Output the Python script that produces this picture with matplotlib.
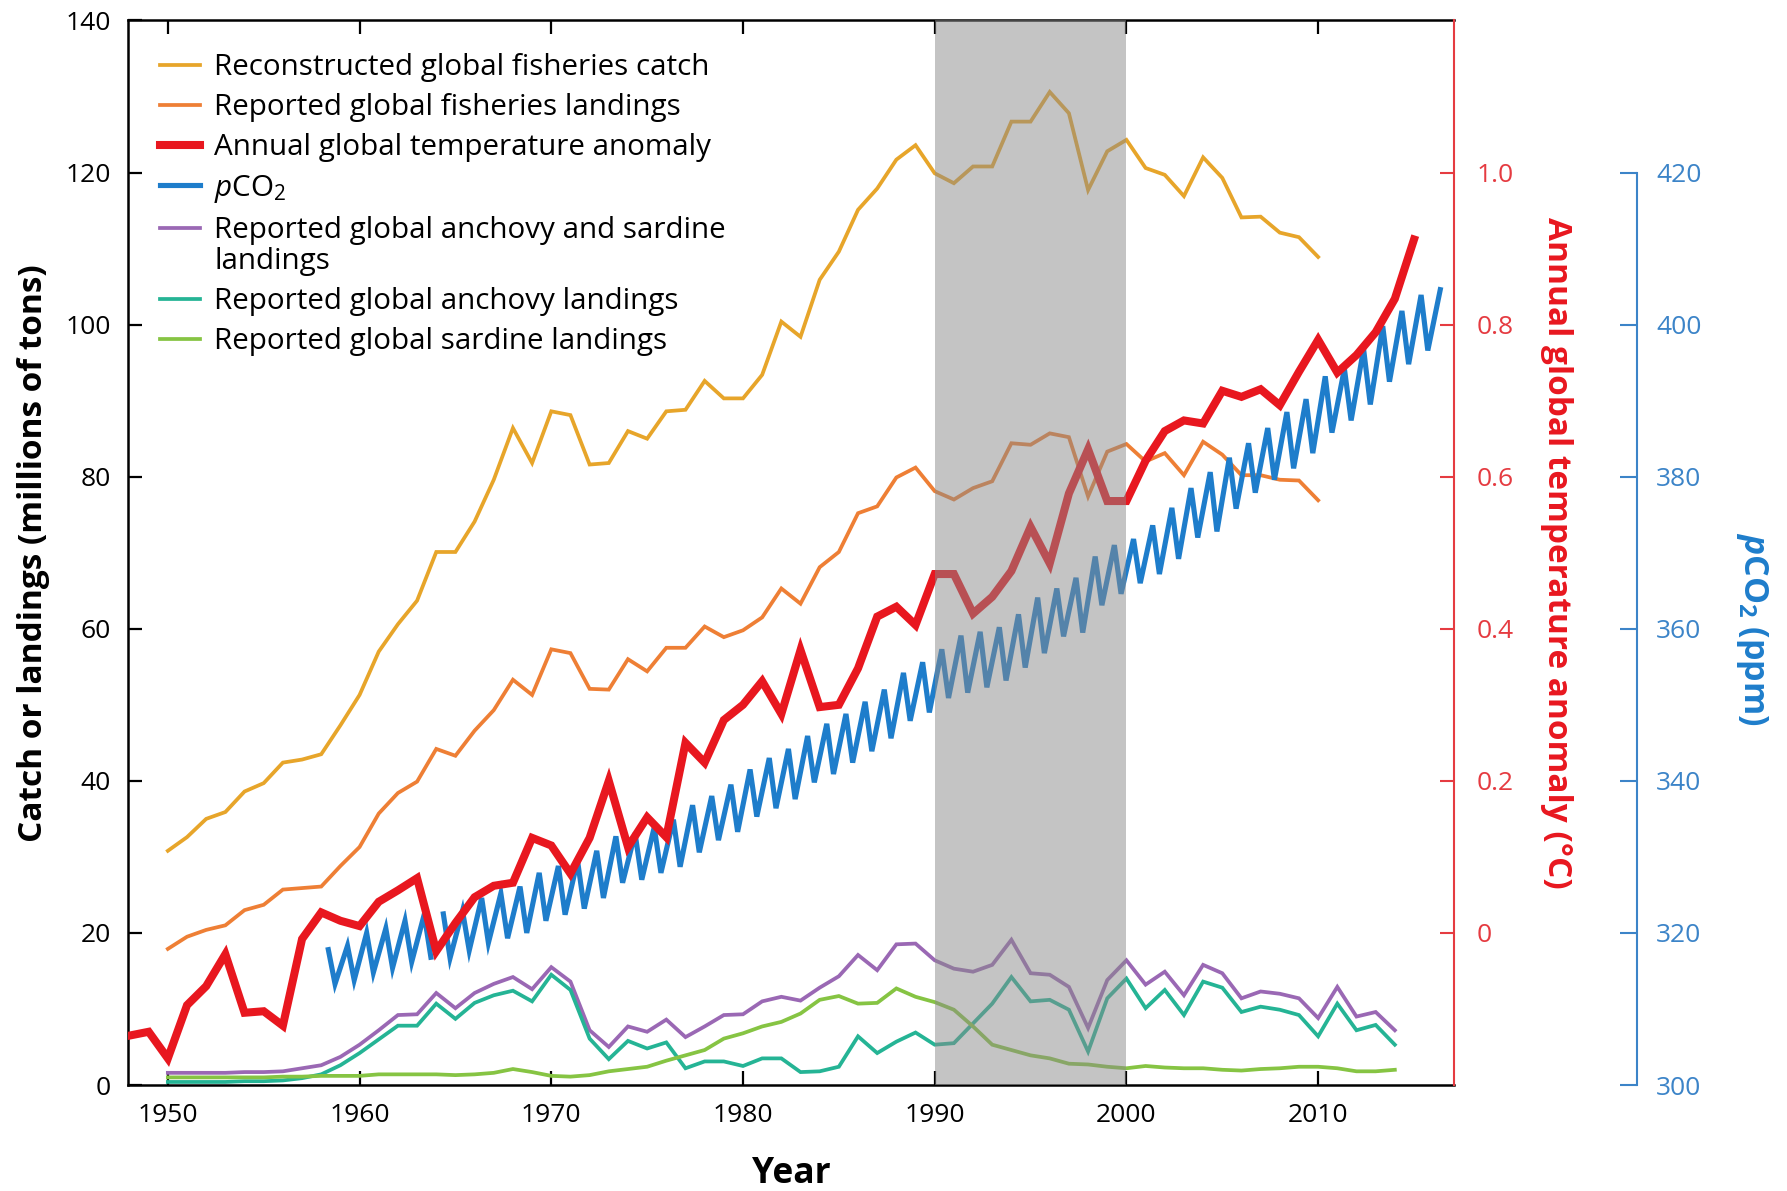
import numpy as np
import matplotlib
matplotlib.use("Agg")
import matplotlib.pyplot as plt
from matplotlib.legend_handler import HandlerLine2D

FONT = "Open Sans"
plt.rcParams["font.family"] = [FONT, "DejaVu Sans"]
plt.rcParams["mathtext.fontset"] = "custom"
plt.rcParams["mathtext.rm"] = FONT
plt.rcParams["mathtext.it"] = FONT + ":italic"
plt.rcParams["mathtext.bf"] = FONT + ":bold"
try:
    plt.rcParams["mathtext.bfit"] = FONT + ":italic:bold"
except KeyError:
    pass

# ---------------- data ----------------
fish_years = list(range(1950, 2011))
reconstructed_catch = [
    30.8, 32.6, 35.0, 35.9, 38.6, 39.7, 42.4, 42.8, 43.5, 47.3,
    51.3, 57.0, 60.6, 63.7, 70.1, 70.1, 74.1, 79.6, 86.4, 81.8,
    88.6, 88.1, 81.6, 81.8, 86.0, 85.0, 88.6, 88.8, 92.6, 90.3,
    90.3, 93.4, 100.4, 98.4, 105.9, 109.6, 115.1, 117.9, 121.7, 123.6,
    119.9, 118.6, 120.8, 120.8, 126.7, 126.7, 130.6, 127.8, 117.7, 122.8,
    124.3, 120.6, 119.7, 116.9, 122.0, 119.3, 114.1, 114.2, 112.1, 111.5,
    108.9]
reported_landings = [
    17.9, 19.5, 20.4, 21.0, 23.0, 23.7, 25.7, 25.9, 26.1, 28.8,
    31.3, 35.7, 38.4, 39.9, 44.2, 43.3, 46.6, 49.3, 53.3, 51.3,
    57.3, 56.8, 52.1, 52.0, 56.0, 54.4, 57.5, 57.5, 60.3, 58.9,
    59.8, 61.5, 65.3, 63.3, 68.1, 70.1, 75.2, 76.1, 79.9, 81.2,
    78.1, 77.0, 78.5, 79.4, 84.4, 84.2, 85.7, 85.2, 77.4, 83.3,
    84.3, 82.0, 83.1, 80.2, 84.6, 82.9, 80.2, 80.2, 79.6, 79.5,
    76.9]

small_years = list(range(1950, 2015))
anchovy_sardine = [
    1.6, 1.6, 1.6, 1.6, 1.7, 1.7, 1.8, 2.2, 2.6, 3.7,
    5.3, 7.2, 9.2, 9.3, 12.1, 10.1, 12.1, 13.3, 14.2, 12.6,
    15.5, 13.6, 7.2, 5.0, 7.7, 7.0, 8.6, 6.3, 7.7, 9.2,
    9.3, 11.0, 11.6, 11.1, 12.8, 14.3, 17.1, 15.1, 18.5, 18.6,
    16.4, 15.3, 14.9, 15.8, 19.1, 14.7, 14.5, 12.9, 7.5, 13.8,
    16.4, 13.2, 14.9, 11.8, 15.8, 14.7, 11.4, 12.3, 12.0, 11.4,
    8.8, 12.9, 9.0, 9.6, 7.2]
anchovy = [
    0.4, 0.4, 0.4, 0.4, 0.5, 0.5, 0.6, 0.9, 1.4, 2.6,
    4.2, 6.0, 7.8, 7.8, 10.7, 8.7, 10.8, 11.8, 12.4, 11.0,
    14.5, 12.5, 6.1, 3.4, 5.8, 4.8, 5.6, 2.2, 3.1, 3.1,
    2.5, 3.5, 3.5, 1.7, 1.8, 2.4, 6.4, 4.2, 5.7, 6.9,
    5.3, 5.5, 8.1, 10.7, 14.2, 11.0, 11.2, 9.9, 4.4, 11.4,
    14.0, 10.1, 12.5, 9.2, 13.6, 12.8, 9.6, 10.3, 9.9, 9.2,
    6.4, 10.7, 7.2, 7.9, 5.3]
sardine = [
    1.0, 1.0, 1.0, 1.0, 1.0, 1.0, 1.1, 1.1, 1.2, 1.2,
    1.2, 1.4, 1.4, 1.4, 1.4, 1.3, 1.4, 1.6, 2.1, 1.7,
    1.2, 1.1, 1.3, 1.8, 2.1, 2.4, 3.2, 3.9, 4.6, 6.1,
    6.8, 7.7, 8.3, 9.4, 11.2, 11.7, 10.7, 10.8, 12.7, 11.6,
    10.9, 9.9, 7.7, 5.3, 4.6, 3.9, 3.5, 2.8, 2.7, 2.4,
    2.2, 2.5, 2.3, 2.2, 2.2, 2.0, 1.9, 2.1, 2.2, 2.4,
    2.4, 2.2, 1.8, 1.8, 2.0]

temp_years = list(range(1948, 2016))
temp_anomaly = [
    -0.135, -0.130, -0.165, -0.095, -0.070, -0.028, -0.105, -0.103, -0.122, -0.008,
    0.027, 0.016, 0.009, 0.041, 0.056, 0.072, -0.024, 0.013, 0.047, 0.062,
    0.066, 0.125, 0.115, 0.078, 0.125, 0.200, 0.113, 0.152, 0.126, 0.250,
    0.224, 0.280, 0.300, 0.331, 0.288, 0.372, 0.297, 0.300, 0.348, 0.416,
    0.429, 0.405, 0.472, 0.472, 0.420, 0.442, 0.476, 0.534, 0.486, 0.578,
    0.636, 0.568, 0.568, 0.621, 0.660, 0.674, 0.670, 0.713, 0.705, 0.715,
    0.694, 0.738, 0.780, 0.737, 0.760, 0.790, 0.834, 0.912]

# pCO2: yearly seasonal maximum (late spring) and minimum (early autumn), ppm
co2_years = list(range(1958, 2017))
co2_max = [
    317.8, 318.3, 320.0, 320.6, 321.6, 322.4, 322.5, 322.9, 324.6, 325.2,
    326.1, 327.9, 328.8, 329.5, 330.8, 332.7, 333.1, 333.9, 334.9, 336.8,
    338.0, 339.5, 341.5, 343.0, 344.2, 345.9, 347.5, 348.8, 350.4, 352.0,
    354.2, 355.6, 357.3, 359.1, 359.6, 360.2, 361.9, 364.1, 365.3, 366.7,
    369.5, 371.0, 371.8, 373.6, 375.9, 378.5, 380.6, 382.5, 384.4, 386.4,
    388.5, 390.2, 393.2, 394.2, 396.8, 399.8, 401.8, 403.9, 404.6]
co2_min = [
    313.3, 313.8, 314.8, 315.4, 316.2, 316.8, 316.7, 317.7, 318.7, 319.3,
    320.0, 321.6, 322.4, 323.2, 324.6, 326.6, 327.0, 327.9, 328.7, 330.6,
    332.2, 333.3, 335.3, 336.4, 337.6, 339.8, 340.9, 342.4, 343.9, 345.6,
    347.9, 349.0, 350.9, 351.6, 352.3, 353.2, 354.9, 356.8, 359.0, 359.5,
    363.1, 364.6, 366.0, 367.2, 369.2, 372.0, 372.8, 375.8, 377.9, 379.6,
    381.1, 383.1, 385.8, 387.4, 389.5, 392.5, 394.8, 396.6, np.nan]
co2_gap_after = 1963  # missing months early 1964

shade_start, shade_end = 1990, 2000

# --------------- styling ---------------
C_GOLD = "#E7A52A"
C_ORANGE = "#EE7F35"
C_RED = "#E8171F"
C_BLUE = "#1E7DCB"
C_PURPLE = "#9A68B4"
C_TEAL = "#25B495"
C_GREEN = "#86C443"
C_RAXIS = "#E53B41"
C_BAXIS = "#3C84C8"

W, H = 1787, 1191
fig = plt.figure(figsize=(W / 100, H / 100), dpi=100)
ax = fig.add_axes([0.0714, 0.0890, 0.7424, 0.8938])
ax3 = ax.twinx()   # pCO2
ax2 = ax.twinx()   # temperature (drawn on top)

# fisheries lines
lw_thin = 2.7
l_gold, = ax.plot(fish_years, reconstructed_catch, color=C_GOLD, lw=lw_thin, solid_joinstyle="miter")
l_orange, = ax.plot(fish_years, reported_landings, color=C_ORANGE, lw=lw_thin, solid_joinstyle="miter")
l_purple, = ax.plot(small_years, anchovy_sardine, color=C_PURPLE, lw=lw_thin, solid_joinstyle="miter")
l_teal, = ax.plot(small_years, anchovy, color=C_TEAL, lw=lw_thin, solid_joinstyle="miter")
l_green, = ax.plot(small_years, sardine, color=C_GREEN, lw=lw_thin, solid_joinstyle="miter")

# pCO2 seasonal zigzag
co2_t, co2_v = [], []
for yr, mx, mn in zip(co2_years, co2_max, co2_min):
    co2_t += [yr + 0.37, yr + 0.72]
    co2_v += [mx, mn]
    if yr == co2_gap_after:
        co2_t.append(yr + 0.95)
        co2_v.append(np.nan)
l_blue, = ax3.plot(co2_t, co2_v, color=C_BLUE, lw=3.7, solid_joinstyle="miter")

# temperature
l_red, = ax2.plot(temp_years, temp_anomaly, color=C_RED, lw=5.8, solid_joinstyle="miter")

# shaded period overlay (on top of all lines)
ax2.axvspan(shade_start, shade_end, color="#8a8a8a", alpha=0.5, lw=0, zorder=10)

# --------------- axes ---------------
ax.set_xlim(1947.9, 2017.1)
ax.set_ylim(0, 140)
ax2.set_ylim(-0.2, 1.2)
ax3.set_ylim(300, 440)

TICK_FS = 19
ax.set_xticks(range(1950, 2011, 10))
ax.set_yticks(range(0, 141, 20))
ax.tick_params(axis="x", direction="in", length=10, width=1.6, top=True, labelsize=TICK_FS, pad=13)
ax.tick_params(axis="y", direction="in", length=10, width=1.6, right=False, labelsize=TICK_FS, pad=12)
for s in ["left", "bottom", "top"]:
    ax.spines[s].set_linewidth(1.8)
ax.spines["right"].set_visible(False)

for s in ["left", "bottom", "top"]:
    ax2.spines[s].set_visible(False)
ax2.spines["right"].set_color(C_RAXIS)
ax2.spines["right"].set_linewidth(1.5)
ax2.set_yticks([0, 0.2, 0.4, 0.6, 0.8, 1.0], ["0", "0.2", "0.4", "0.6", "0.8", "1.0"])
ax2.tick_params(axis="y", direction="in", length=10, width=1.5, color=C_RAXIS,
                labelcolor=C_RAXIS, labelsize=TICK_FS, pad=16)

for s in ["left", "bottom", "top"]:
    ax3.spines[s].set_visible(False)
ax3.spines["right"].set_position(("axes", 1.1374))
ax3.spines["right"].set_bounds(300, 420)
ax3.spines["right"].set_color(C_BAXIS)
ax3.spines["right"].set_linewidth(1.5)
ax3.set_yticks(range(300, 421, 20))
ax3.tick_params(axis="y", direction="in", length=12, width=1.5, color=C_BAXIS,
                labelcolor=C_BAXIS, labelsize=TICK_FS, pad=14)

LABEL_FS = 24
ax.set_xlabel("Year", fontsize=25.5, fontweight="bold", va="center")
ax.xaxis.set_label_coords(0.5, -0.0836)
ax.set_ylabel("Catch or landings (millions of tons)", fontsize=LABEL_FS,
              fontweight="bold", va="center")
ax.yaxis.set_label_coords(-0.0713, 0.5)
ax2.set_ylabel("Annual global temperature anomaly (°C)", fontsize=LABEL_FS,
               fontweight="bold", color=C_RED, rotation=270, va="center")
ax2.yaxis.set_label_coords(1.0774, 0.5)
ax3.set_ylabel(r"$\mathbfit{p}$CO$_\mathbf{2}$ (ppm)", fontsize=LABEL_FS + 0.5,
               fontweight="bold", color=C_BLUE, rotation=270, va="center")
ax3.yaxis.set_label_coords(1.2243, 0.428)


# --------------- legend ---------------
class TopAlignedLine(HandlerLine2D):
    """Legend line aligned with the first line of a two-line label."""
    def __init__(self, shift_frac, **kw):
        super().__init__(**kw)
        self.shift_frac = shift_frac

    def create_artists(self, legend, orig_handle, xdescent, ydescent,
                       width, height, fontsize, trans):
        shift = self.shift_frac * fontsize
        return super().create_artists(legend, orig_handle, xdescent, ydescent,
                                      width, height + 2 * shift, fontsize, trans)


handles = [l_gold, l_orange, l_red, l_blue, l_purple, l_teal, l_green]
labels = ["Reconstructed global fisheries catch",
          "Reported global fisheries landings",
          "Annual global temperature anomaly",
          r"$\mathit{p}$CO$_2$",
          "Reported global anchovy and sardine\nlandings",
          "Reported global anchovy landings",
          "Reported global sardine landings"]
LEG_FS = 21.3
leg = ax2.legend(handles, labels, loc="upper left",
                 bbox_to_anchor=(159.6 / W, 1 - 53 / H), bbox_transform=fig.transFigure,
                 frameon=False, fontsize=LEG_FS, handlelength=1.35, handletextpad=0.5,
                 labelspacing=0.37, borderpad=0, borderaxespad=0,
                 handler_map={l_purple: TopAlignedLine(0.62)})
for t in leg.get_texts():
    t.set_linespacing(1.1)

fig.savefig("out.png", dpi=100, facecolor="white")
